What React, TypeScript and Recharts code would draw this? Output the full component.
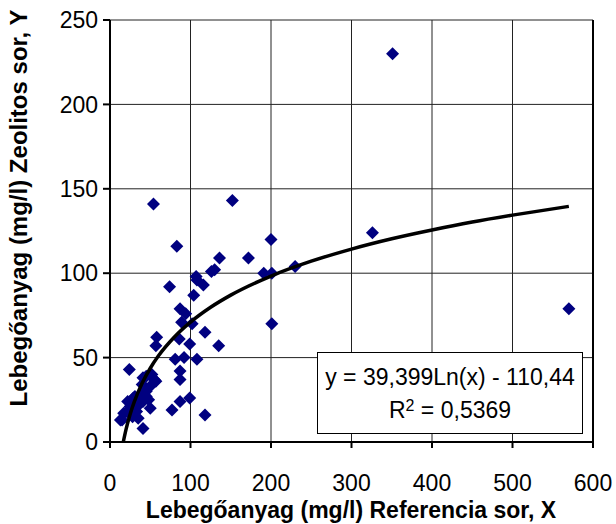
import React from "react";
import {
  ScatterChart,
  Scatter,
  XAxis,
  YAxis,
  CartesianGrid,
  ReferenceLine,
} from "recharts";

// measured points (Referencia sor X, Zeolitos sor Y)
const refX = [
  351, 326, 570, 152, 54, 83, 200, 136, 172, 130, 126, 107, 191, 201, 230,
  74, 108, 116, 104, 87, 94, 89, 102, 201, 118, 58, 57, 86, 99, 135,
  24, 81, 92, 108, 87, 87, 41, 52, 57, 50, 45, 40, 29, 41, 50, 21, 15, 41,
  77, 87, 99, 118, 31, 45, 25, 17, 13, 36, 33, 28, 45, 38, 55, 48, 35, 22,
];
const zeoY = [
  230, 124, 79, 143, 141, 116, 120, 109, 109, 102, 101, 98, 100, 100, 104,
  92, 96, 93, 87, 79, 76, 71, 70, 70, 65, 62, 57, 61, 58, 57,
  43, 49, 50, 49, 42, 37, 38, 40, 36, 33, 39, 34, 26, 24, 20, 18, 13, 8,
  19, 24, 26, 16, 27, 27, 21, 17, 13, 22, 18, 15, 30, 28, 37, 25, 14, 24,
];

// logarithmic trend line
const trendX = [16.5, 20, 25, 30, 40, 50, 60, 80, 100, 125, 150, 200, 250, 300, 350, 400, 450, 500, 570];
const trendY = [0, 7.6, 16.4, 23.6, 34.9, 43.7, 50.9, 62.2, 71.0, 79.8, 87.0, 98.3, 107.1, 114.3, 120.4, 125.6, 130.3, 134.4, 139.6];

const xTicks = [0, 100, 200, 300, 400, 500, 600];
const yTicks = [0, 50, 100, 150, 200, 250];

const points = refX.map((x, i) => ({ x, y: zeoY[i] }));
const trend = trendX.map((x, i) => ({ x, y: trendY[i] }));

const FONT = "Arial, 'Liberation Sans', sans-serif";

const Diamond = (props: any) => {
  const { cx, cy } = props;
  const r = 6.5;
  return (
    <polygon
      points={`${cx},${cy - r} ${cx + r},${cy} ${cx},${cy + r} ${cx - r},${cy}`}
      fill="#000080"
    />
  );
};

export default function App() {
  return (
    <div style={{ position: "absolute", left: 0, top: 0, width: 616, height: 524, background: "#fff", fontFamily: FONT, overflow: "hidden" }}>
      <ScatterChart width={616} height={524} margin={{ top: 20, right: 23, bottom: 0, left: 0 }}>
        <CartesianGrid stroke="#222" strokeWidth={1} />
        <XAxis
          type="number"
          dataKey="x"
          domain={[0, 600]}
          ticks={xTicks}
          height={82}
          stroke="#000"
          strokeWidth={2}
          tickSize={6}
          tickMargin={27}
          tick={{ fill: "#000", fontSize: 23, fontFamily: FONT }}
          label={{
            content: () => (
              <text x={351} y={518} textAnchor="middle" fontSize={23} fontWeight="bold" fontFamily={FONT} fill="#000">
                Lebegőanyag (mg/l) Referencia sor, X
              </text>
            ),
          }}
        />
        <YAxis
          type="number"
          dataKey="y"
          domain={[0, 250]}
          ticks={yTicks}
          width={110}
          stroke="#000"
          strokeWidth={2}
          tickSize={7}
          tickMargin={5}
          tick={{ fill: "#000", fontSize: 23, fontFamily: FONT }}
          label={{
            content: () => (
              <text
                x={27}
                y={208}
                transform="rotate(-90 27 208)"
                textAnchor="middle"
                fontSize={24}
                fontWeight="bold"
                fontFamily={FONT}
                fill="#000"
              >
                Lebegőanyag (mg/l) Zeolitos sor, Y
              </text>
            ),
          }}
        />
        <ReferenceLine x={600} stroke="#000" strokeWidth={2} />
        <Scatter data={points} shape={Diamond} isAnimationActive={false} />
        <Scatter
          data={trend}
          line={{ stroke: "#000", strokeWidth: 3.5 }}
          lineJointType="monotoneX"
          shape={() => null}
          isAnimationActive={false}
        />
      </ScatterChart>
      <div
        style={{
          position: "absolute",
          left: 317,
          top: 352,
          width: 266,
          height: 82,
          border: "1px solid #000",
          background: "#fff",
          fontSize: 23,
          lineHeight: "33px",
          textAlign: "center",
          paddingTop: 8,
          boxSizing: "border-box",
          color: "#000",
        }}
      >
        <div>y = 39,399Ln(x) - 110,44</div>
        <div>
          R<sup style={{ fontSize: 16, verticalAlign: "top", lineHeight: "24px" }}>2</sup> = 0,5369
        </div>
      </div>
    </div>
  );
}
